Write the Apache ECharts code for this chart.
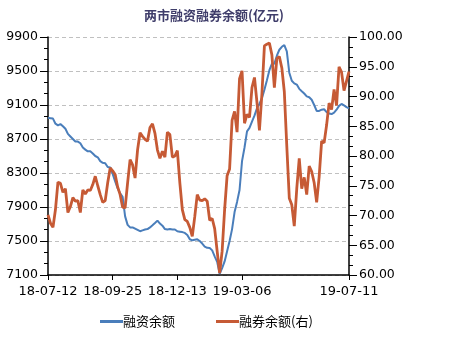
<!DOCTYPE html>
<html>
<head>
<meta charset="utf-8">
<script src="https://cdn.jsdelivr.net/npm/echarts@6/dist/echarts.min.js"></script>
<style>
  html, body { margin: 0; padding: 0; background: #fff; }
  #main { width: 451px; height: 352px; }
</style>
</head>
<body>
<div id="main"></div>
<script>
// tick labels on the x axis and where they sit among the points
const xLabels = ['18-07-12', '18-09-25', '18-12-13', '19-03-06', '19-07-11']
const xLabelIdx = [0, 26, 52, 78, 121]

// 融资余额 (left axis, 亿元)
const financing = [
  8950, 8945, 8940, 8880, 8860, 8875, 8850, 8820, 8760, 8730,
  8700, 8670, 8670, 8650, 8600, 8575, 8555, 8555, 8530, 8500,
  8485, 8440, 8420, 8415, 8370, 8365, 8290, 8200, 8120, 8060,
  8020, 7790, 7690, 7660, 7660, 7645, 7630, 7615, 7625, 7635,
  7640, 7660, 7685, 7712, 7740, 7705, 7680, 7640, 7635, 7640,
  7635, 7636, 7615, 7610, 7605, 7595, 7570, 7520, 7508, 7515,
  7520, 7500, 7470, 7435, 7420, 7418, 7390, 7320, 7255, 7115,
  7180, 7260, 7380, 7500, 7640, 7840, 7960, 8100, 8440, 8600,
  8790, 8830, 8905, 8975, 9060, 9115, 9180, 9280, 9390, 9510,
  9585, 9585, 9680, 9750, 9785, 9805, 9730, 9480, 9385, 9355,
  9340, 9290, 9262, 9235, 9202, 9192, 9162, 9100, 9030, 9030,
  9045, 9050, 9017, 9000, 8994, 9010, 9045, 9090, 9112, 9095,
  9075, 9060
]

// 融券余额 (right axis, 亿元)
const lending = [
  70.1, 68.7, 68.0, 71.0, 75.6, 75.4, 73.9, 74.5, 70.5, 71.5,
  73.0, 72.4, 72.5, 70.5, 74.3, 73.6, 74.3, 74.2, 75.2, 76.6,
  75.0, 73.5, 72.2, 72.5, 75.5, 78.0, 77.5, 76.9, 74.8, 73.5,
  71.4, 71.3, 75.5, 79.4, 78.5, 76.3, 81.0, 83.9, 83.3, 82.8,
  82.5, 84.8, 85.4, 83.8, 81.0, 79.6, 80.8, 79.8, 84.0, 83.6,
  79.8, 80.0, 80.9, 75.5, 71.0, 69.3, 69.0, 68.0, 66.5, 69.8,
  73.5, 72.6, 72.5, 72.8, 72.4, 69.2, 69.5, 67.8, 64.0, 60.3,
  64.0, 71.0, 76.7, 77.8, 86.0, 87.5, 84.0, 93.0, 94.3, 85.5,
  87.0, 86.5, 91.5, 93.2, 89.0, 84.3, 90.5, 98.5, 98.8, 99.0,
  97.0, 91.5, 96.4, 96.7, 94.8, 90.8, 81.6, 72.9, 71.8, 68.2,
  74.5, 79.6, 74.5, 76.4, 73.5, 78.3, 77.4, 75.5, 72.2, 76.5,
  82.5, 82.2, 85.2, 88.9, 87.8, 91.2, 88.5, 95.0, 94.1, 91.0,
  92.6, 94.2
]

const categories = financing.map((v, i) => {
  const k = xLabelIdx.indexOf(i)
  return k >= 0 ? xLabels[k] : ''
})
const showTick = idx => xLabelIdx.indexOf(idx) >= 0

const font = 'DejaVu Sans'
const cjk = '"Noto Sans CJK SC", sans-serif'

const chart = echarts.init(document.getElementById('main'), null, { renderer: 'canvas' })
chart.setOption({
  animation: false,
  backgroundColor: '#fff',
  title: {
    text: '两市融资融券余额(亿元)',
    left: 139,
    top: 4,
    textStyle: { fontFamily: cjk, fontSize: 13, fontWeight: 'bold', color: '#3f3d6a' }
  },
  legend: {
    bottom: 19,
    left: 95,
    itemGap: 41,
    itemWidth: 23,
    itemHeight: 3,
    icon: 'rect',
    textStyle: { fontFamily: cjk, fontSize: 13, color: '#000', padding: [0, 0, 0, -5] },
    data: ['融资余额', '融券余额(右)']
  },
  grid: { left: 48, right: 102, top: 37, bottom: 77 },
  xAxis: {
    type: 'category',
    data: categories,
    boundaryGap: false,
    axisLine: { lineStyle: { color: '#000', width: 1.5 } },
    axisTick: { interval: showTick, length: 5, lineStyle: { color: '#000' } },
    axisLabel: {
      interval: showTick,
      fontFamily: font,
      fontSize: 13,
      color: '#000',
      margin: 10
    },
    splitLine: { show: false }
  },
  yAxis: [
    {
      type: 'value',
      position: 'left',
      min: 7100,
      max: 9900,
      interval: 400,
      axisLine: { show: true, lineStyle: { color: '#000', width: 1.5 } },
      axisTick: { show: true, length: 8, lineStyle: { color: '#000' } },
      minorTick: { show: true, splitNumber: 3, length: 4, lineStyle: { color: '#000' } },
      axisLabel: {
        fontFamily: font,
        fontSize: 12.5,
        color: '#000',
        margin: 10,
        formatter: v => String(v)
      },
      splitLine: { show: true, lineStyle: { color: '#c0c0c0', type: [4, 3] } }
    },
    {
      type: 'value',
      position: 'right',
      min: 60,
      max: 100,
      interval: 5,
      axisLine: { show: true, lineStyle: { color: '#000', width: 1.5 } },
      axisTick: { show: true, length: 8, lineStyle: { color: '#000' } },
      minorTick: { show: true, splitNumber: 3, length: 4, lineStyle: { color: '#000' } },
      axisLabel: {
        fontFamily: font,
        fontSize: 12.5,
        color: '#000',
        margin: 10,
        formatter: v => v.toFixed(2)
      },
      splitLine: { show: false }
    }
  ],
  series: [
    {
      name: '融资余额',
      type: 'line',
      yAxisIndex: 0,
      data: financing,
      symbol: 'none',
      color: '#4a7ebb',
      lineStyle: { color: '#4a7ebb', width: 2 }
    },
    {
      name: '融券余额(右)',
      type: 'line',
      yAxisIndex: 1,
      data: lending,
      symbol: 'none',
      color: '#c65a35',
      lineStyle: { color: '#c65a35', width: 2.8 }
    }
  ]
})
</script>
</body>
</html>
